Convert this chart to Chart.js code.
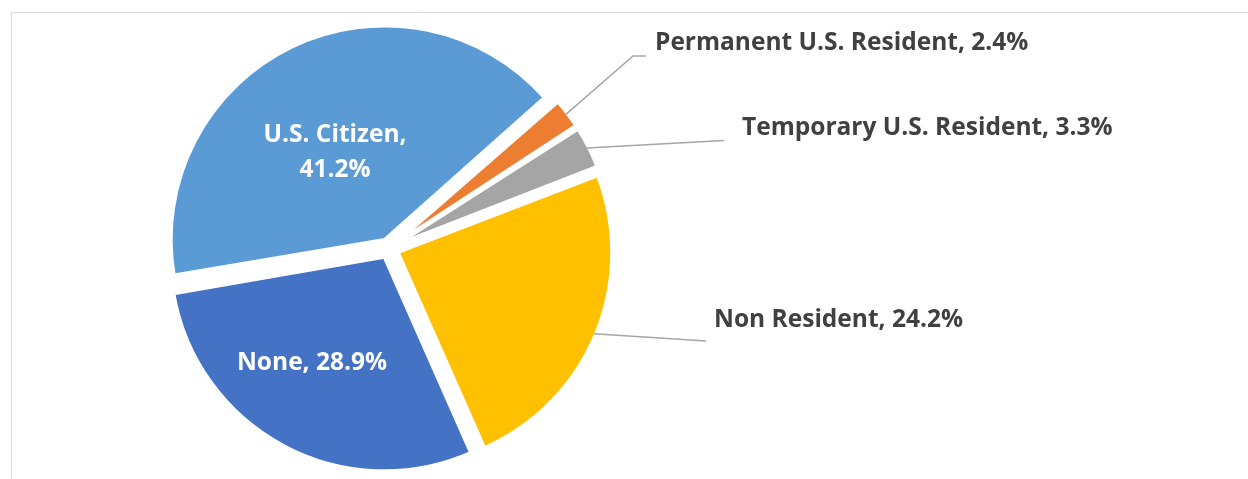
<!DOCTYPE html>
<html lang="en">
<head>
    <meta charset="UTF-8">
    <title>Residency status</title>
    <script src="https://cdn.jsdelivr.net/npm/chart.js"></script>
    <style>
        html, body { margin: 0; padding: 0; background: #fff; overflow: hidden; }
        /* thin chart-area frame, like the spreadsheet chart border */
        .frame { position: absolute; left: 11px; top: 12px; width: 1300px; height: 520px; border: 1px solid #d9d9d9; }
        canvas { position: absolute; left: 0; top: 0; }
    </style>
</head>
<body>
    <div class="frame"></div>
    <canvas id="myChart" width="1248" height="479"></canvas>

    <script>
        // Data
        const categories = ['U.S. Citizen', 'Permanent U.S. Resident', 'Temporary U.S. Resident', 'Non Resident', 'None'];
        const shares = [41.2, 2.4, 3.3, 24.2, 28.9];
        const sliceColors = ['#5B9BD5', '#ED7D31', '#A5A5A5', '#FFC000', '#4472C4'];

        // Explosion of every slice (Chart.js moves an arc by offset / 4)
        const sliceOffset = 40;
        const labelFont = 'bold 24.5px "Open Sans"';

        // Where each data label goes (x, baseline y): inside ones are centred, outside ones get a leader line
        const labelLayout = [
            { inside: true, x: 335, y: 142, split: true },
            { x: 655, y: 50, elbow: [633, 56], end: [646, 56] },
            { x: 742, y: 135, end: [724, 140.5] },
            { x: 714, y: 326.5, end: [706, 341] },
            { inside: true, x: 312, y: 370 }
        ];

        // Chart.js also grows small arcs by the offset; undo that so all slices keep one radius
        const keepRadius = {
            id: 'keepRadius',
            beforeDatasetsDraw(chart) {
                chart.getDatasetMeta(0).data.forEach(arc => {
                    const fix = 1 - Math.sin(Math.min(Math.PI, arc.circumference));
                    arc.baseRadius = arc.outerRadius;
                    arc.outerRadius = arc.outerRadius - (sliceOffset / 4) * fix;
                });
            },
            afterDatasetsDraw(chart) {
                chart.getDatasetMeta(0).data.forEach(arc => {
                    arc.outerRadius = arc.baseRadius;
                });
            }
        };

        const sliceLabels = {
            id: 'sliceLabels',
            afterDatasetsDraw(chart) {
                const ctx = chart.ctx;
                const arcs = chart.getDatasetMeta(0).data;
                ctx.save();
                ctx.font = labelFont;
                ctx.textBaseline = 'alphabetic';
                arcs.forEach((arc, i) => {
                    const lay = labelLayout[i];
                    const pct = shares[i].toFixed(1) + '%';
                    if (lay.inside) {
                        ctx.fillStyle = '#ffffff';
                        ctx.textAlign = 'center';
                        if (lay.split) {
                            ctx.fillText(categories[i] + ',', lay.x, lay.y);
                            ctx.fillText(pct, lay.x, lay.y + 34.5);
                        } else {
                            ctx.fillText(categories[i] + ', ' + pct, lay.x, lay.y);
                        }
                        return;
                    }
                    // leader line starts on the outer edge of the (exploded) slice
                    const mid = (arc.startAngle + arc.endAngle) / 2;
                    const r = arc.outerRadius - 1.5 + sliceOffset / 4;
                    const sx = arc.x + Math.cos(mid) * r;
                    const sy = arc.y + Math.sin(mid) * r;
                    ctx.strokeStyle = '#a6a6a6';
                    ctx.lineWidth = 1.5;
                    ctx.beginPath();
                    ctx.moveTo(sx, sy);
                    if (lay.elbow) ctx.lineTo(lay.elbow[0], lay.elbow[1]);
                    ctx.lineTo(lay.end[0], lay.end[1]);
                    ctx.stroke();
                    ctx.fillStyle = '#404040';
                    ctx.textAlign = 'left';
                    ctx.fillText(categories[i] + ', ' + pct, lay.x, lay.y);
                });
                ctx.restore();
            }
        };

        const ctx = document.getElementById('myChart').getContext('2d');
        const myChart = new Chart(ctx, {
            type: 'pie',
            data: {
                labels: categories,
                datasets: [{
                    data: shares,
                    backgroundColor: sliceColors,
                    borderColor: '#ffffff',
                    borderWidth: 3,
                    offset: sliceOffset
                }]
            },
            options: {
                responsive: false,
                animation: false,
                rotation: -99.8,
                radius: 213.5,
                layout: { padding: { left: 154, right: 624, top: 18, bottom: 0 } },
                plugins: {
                    legend: { display: false },
                    tooltip: { enabled: false }
                }
            },
            plugins: [keepRadius, sliceLabels]
        });
    </script>
</body>
</html>
